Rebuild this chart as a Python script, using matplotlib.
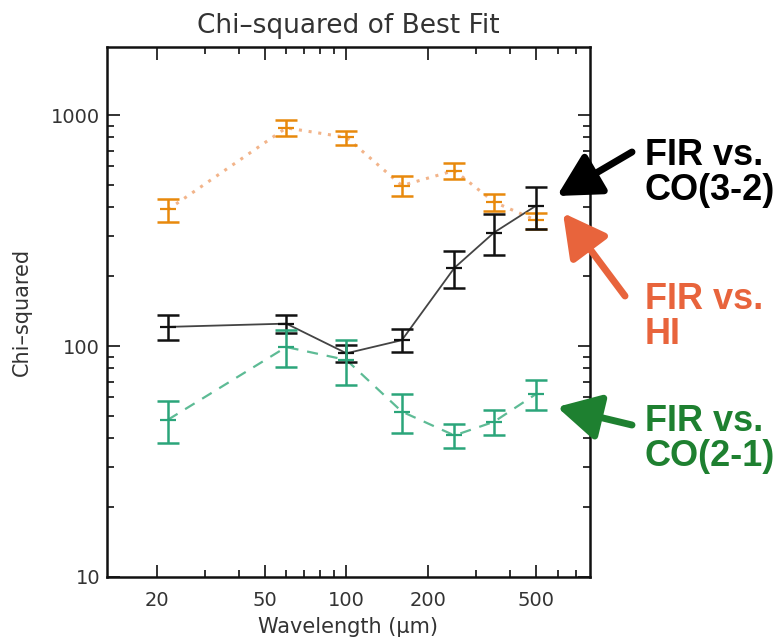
import matplotlib
matplotlib.use("Agg")
import matplotlib.pyplot as plt
from matplotlib.ticker import FixedLocator, LogLocator, NullFormatter, FixedFormatter

wavelength = [22, 60, 100, 160, 250, 350, 500]
chi_hi = [390, 880, 800, 495, 575, 420, 350]
err_hi = [45, 70, 55, 50, 45, 35, 28]
chi_co32 = [121, 125, 93, 106, 218, 310, 405]
err_co32 = [15, 11, 8, 12, 40, 62, 85]
chi_co21 = [48, 99, 87, 52, 41, 47, 62]
err_co21 = [10, 18, 19, 10, 5, 6, 9]
xticks = [20, 50, 100, 200, 500]
xticklabels = ["20", "50", "100", "200", "500"]
yticks = [10, 100, 1000]
yticklabels = ["10", "100", "1000"]

fig = plt.figure(figsize=(7.81, 6.37), dpi=100)
ax = fig.add_axes([107/781, 1-577/637, (590-107)/781, (577-47)/637])
ax.set_xscale("log")
ax.set_yscale("log")
ax.set_xlim(13.1, 790)
ax.set_ylim(10, 1970)

orange = "#E8890C"
green = "#2BA57A"
black = "#111111"

ax.plot(wavelength, chi_hi, linestyle=(0, (1, 2.2)), color="#F2B48A", lw=2.2, zorder=1)
ax.errorbar(wavelength, chi_hi, yerr=err_hi, fmt="none", ecolor=orange, elinewidth=1.8,
            capsize=8, capthick=1.8, zorder=3)
ax.plot(wavelength, chi_hi, marker="_", ms=12, mew=1.6, ls="none", color=orange, zorder=3)

ax.plot(wavelength, chi_co32, linestyle="-", color="#444444", lw=1.3, zorder=2)
ax.errorbar(wavelength, chi_co32, yerr=err_co32, fmt="none", ecolor=black, elinewidth=1.8,
            capsize=8, capthick=1.8, zorder=3)
ax.plot(wavelength, chi_co32, marker="_", ms=12, mew=1.6, ls="none", color=black, zorder=3)

ax.plot(wavelength, chi_co21, linestyle=(0, (5, 4)), color="#5DBB95", lw=1.6, zorder=1)
ax.errorbar(wavelength, chi_co21, yerr=err_co21, fmt="none", ecolor=green, elinewidth=1.8,
            capsize=8, capthick=1.8, zorder=3)
ax.plot(wavelength, chi_co21, marker="_", ms=12, mew=1.6, ls="none", color=green, zorder=3)

ax.xaxis.set_major_locator(FixedLocator(xticks))
ax.xaxis.set_major_formatter(FixedFormatter(xticklabels))
ax.xaxis.set_minor_locator(LogLocator(base=10, subs=(2, 3, 4, 5, 6, 7, 8, 9)))
ax.xaxis.set_minor_formatter(NullFormatter())
ax.yaxis.set_major_locator(FixedLocator(yticks))
ax.yaxis.set_major_formatter(FixedFormatter(yticklabels))
ax.yaxis.set_minor_locator(LogLocator(base=10, subs=(2, 3, 4, 5, 6, 7, 8, 9)))
ax.yaxis.set_minor_formatter(NullFormatter())

ax.tick_params(which="both", direction="in", top=True, right=True, colors="#222222",
               labelcolor="#333333", labelsize=14, width=1.3)
ax.tick_params(which="major", length=9)
ax.tick_params(which="minor", length=5)
ax.tick_params(axis="x", which="major", pad=10)
ax.tick_params(axis="y", which="major", pad=5)
for s in ax.spines.values():
    s.set_linewidth(1.8)
    s.set_color("#111111")

ax.set_title("Chi\u2013squared of Best Fit", fontsize=19, color="#333333", pad=10)
ax.set_xlabel("Wavelength (\u03bcm)", fontsize=15, color="#333333", labelpad=5)
ax.set_ylabel("Chi\u2013squared", fontsize=15, color="#333333", labelpad=14)

# Annotations with arrows
fs = 26
fig.text(645/781, 1-173/637, "FIR vs.\nCO(3-2)", fontsize=fs, fontweight="bold",
         family="Liberation Sans", color="black", va="center", ha="left", linespacing=1.0)
fig.text(645/781, 1-317/637, "FIR vs.\nHI", fontsize=fs, fontweight="bold",
         family="Liberation Sans", color="#E8643C", va="center", ha="left", linespacing=1.0)
fig.text(645/781, 1-439/637, "FIR vs.\nCO(2-1)", fontsize=fs, fontweight="bold",
         family="Liberation Sans", color="#1E8030", va="center", ha="left", linespacing=1.0)

arrowkw = dict(arrowstyle="-|>,head_length=1.3,head_width=0.7", lw=5, shrinkA=0, shrinkB=0)
fig.add_artist(matplotlib.patches.FancyArrowPatch(
    (632/781, 1-152/637), (557/781, 1-196/637), transform=fig.transFigure,
    color="black", mutation_scale=20, **arrowkw))
fig.add_artist(matplotlib.patches.FancyArrowPatch(
    (625/781, 1-296/637), (563/781, 1-213/637), transform=fig.transFigure,
    color="#E8643C", mutation_scale=20, **arrowkw))
fig.add_artist(matplotlib.patches.FancyArrowPatch(
    (632/781, 1-425/637), (557/781, 1-407/637), transform=fig.transFigure,
    color="#1E8030", mutation_scale=20, **arrowkw))

fig.savefig("out.png", dpi=100)
